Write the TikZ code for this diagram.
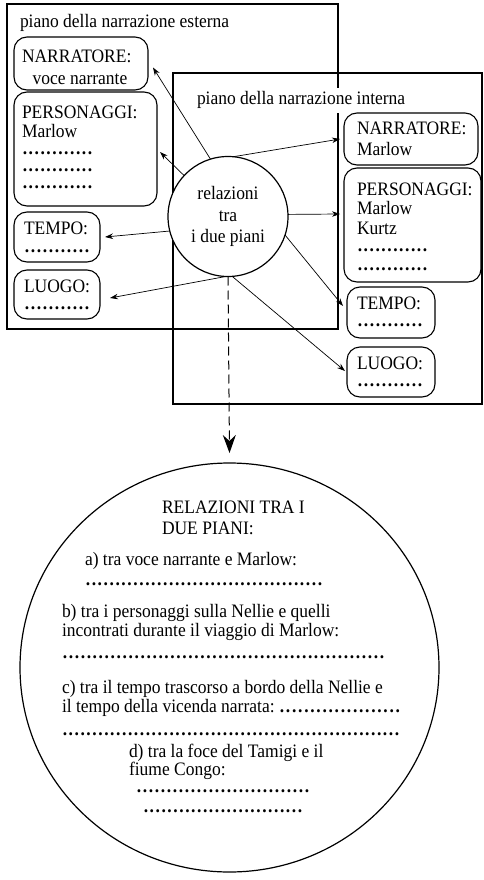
\documentclass[tikz,border=0pt]{standalone}
\usepackage{fontspec}
\setmainfont{Liberation Serif}[FakeStretch=0.92]
\usetikzlibrary{arrows.meta,calc,shapes.geometric}
\newcommand{\dotrow}[1]{\hbox to #1{\bfseries\xleaders\hbox to 5.9pt{\hss.\hss}\hfill}}
\newcommand{\dotfil}{{\bfseries\xleaders\hbox to 5.9pt{\hss.\hss}\hfill}}
\begin{document}
\begin{tikzpicture}[x=1pt,y=-1pt,
  every node/.style={font=\fontsize{19}{20}\selectfont, inner sep=0pt, outer sep=0pt},
  frame/.style={draw, line width=1.1pt, rectangle},
  rbox/.style={draw, line width=1.1pt, rounded corners=13pt, rectangle},
  txt/.style={anchor=base west},
  arr/.style={-{Stealth[length=8pt,width=5.5pt]}, line width=0.7pt},
  bigarr/.style={-{Stealth[length=18pt,width=13pt,inset=6pt]}, line width=1pt, dash pattern=on 9pt off 5pt}]
\useasboundingbox (0,0) rectangle (483,880);

% frames
\node[frame, minimum width=331pt, minimum height=325pt] (extbox) at (172.5,166.5) {};
\node[frame, minimum width=309pt, minimum height=331pt] (intbox) at (327.5,238.5) {};

% titles
\node[txt] (titE) at (20,28) {piano della narrazione esterna};
\node[txt, fill=white, inner xsep=2pt, inner ysep=4pt] (titI) at (195,105) {piano della narrazione interna};

% external boxes
\node[rbox, minimum width=134pt, minimum height=53pt] (narrE) at (81,63.5) {};
\node[txt] (narrE1) at (22,63) {NARRATORE:};
\node[anchor=base] (narrE2) at (80,84.5) {voce narrante};

\node[rbox, minimum width=143pt, minimum height=114pt] (persE) at (85.5,149) {};
\node[txt] (persE1) at (22,119) {PERSONAGGI:};
\node[txt] (persE2) at (22,137.5) {Marlow};
\node[txt] (persE3) at (22,154) {\dotrow{71pt}};
\node[txt] (persE4) at (22,171) {\dotrow{71pt}};
\node[txt] (persE5) at (22,188) {\dotrow{71pt}};

\node[rbox, minimum width=86pt, minimum height=50pt] (tempE) at (57,237) {};
\node[txt] (tempE1) at (24,234.5) {TEMPO:};
\node[txt] (tempE2) at (24,252.5) {\dotrow{66pt}};

\node[rbox, minimum width=86pt, minimum height=49pt] (luogE) at (57,294.5) {};
\node[txt] (luogE1) at (24,292) {LUOGO:};
\node[txt] (luogE2) at (24,309.5) {\dotrow{66pt}};

% internal boxes
\node[rbox, minimum width=134pt, minimum height=52pt] (narrI) at (411,139) {};
\node[txt] (narrI1) at (357,135) {NARRATORE:};
\node[txt] (narrI2) at (357,155) {Marlow};

\node[rbox, minimum width=137pt, minimum height=114pt] (persI) at (412.5,225) {};
\node[txt] (persI1) at (357,195) {PERSONAGGI:};
\node[txt] (persI2) at (357,214.5) {Marlow};
\node[txt] (persI3) at (357,234) {Kurtz};
\node[txt] (persI4) at (357,251.5) {\dotrow{71pt}};
\node[txt] (persI5) at (357,270.5) {\dotrow{71pt}};

\node[rbox, minimum width=88pt, minimum height=51pt] (tempI) at (391,312.5) {};
\node[txt] (tempI1) at (357,309.5) {TEMPO:};
\node[txt] (tempI2) at (357,326.5) {\dotrow{66pt}};

\node[rbox, minimum width=88pt, minimum height=50pt] (luogI) at (391,372) {};
\node[txt] (luogI1) at (357,369.5) {LUOGO:};
\node[txt] (luogI2) at (357,386.5) {\dotrow{66pt}};

% central circle
\node[circle, draw, line width=1.2pt, fill=white, minimum size=120pt, align=center,
      font=\fontsize{19}{21.5}\selectfont] (rel) at (228,216.5) {relazioni\\tra\\i due piani};

% big circle
\node[ellipse, draw, line width=1.2pt, minimum width=419pt, minimum height=409pt] (big) at (229.5,667.5) {};

% connectors
\draw[arr] (rel.107) -- ($(narrE.east)+(5,4)$);
\draw[arr] (rel.137) -- ($(persE.east)+(3,3)$);
\draw[arr] (rel.194) -- ($(tempE.east)+(5,0)$);
\draw[arr] (rel.268) -- ($(luogE.east)+(10,3.5)$);
\draw[arr] (rel.85) -- ($(narrI.west)+(-4,0)$);
\draw[arr] (rel.2) -- ($(persI.west)+(-4,-11)$);
\draw[arr] (rel.-18) -- ($(tempI.west)+(-4,-6.5)$);
\draw[arr] (rel.274) -- ($(luogI.west)+(-2,-1)$);
\draw[bigarr] (rel.south) -- ($(big.north)+(0,-10)$);

% big circle texts
\node[txt] (r1) at (162,513.5) {RELAZIONI TRA I};
\node[txt] (r2) at (162,534) {DUE PIANI:};
\node[txt] (a1) at (85,565.5) {a) tra voce narrante e Marlow:};
\node[txt] (a2) at (85,585.5) {\dotrow{238pt}};
\node[txt] (b1) at (62,617) {b) tra i personaggi sulla Nellie e quelli};
\node[txt] (b2) at (62,636.5) {incontrati durante il viaggio di Marlow:};
\node[txt] (b3) at (62,658.5) {\dotrow{323pt}};
\node[txt] (c1) at (62,693.5) {c) tra il tempo trascorso a bordo della Nellie e};
\node[txt] (c2) at (62,712.5) {\hbox to 339pt{il tempo della vicenda narrata:\ \dotfil}};
\node[txt] (c3) at (62,735) {\dotrow{338pt}};
\node[txt] (d1) at (129,757.5) {d) tra la foce del Tamigi e il};
\node[txt] (d2) at (129,775) {fiume Congo:};
\node[txt] (d3) at (136,792) {\dotrow{174pt}};
\node[txt] (d4) at (143,812) {\dotrow{160pt}};
\end{tikzpicture}
\end{document}
